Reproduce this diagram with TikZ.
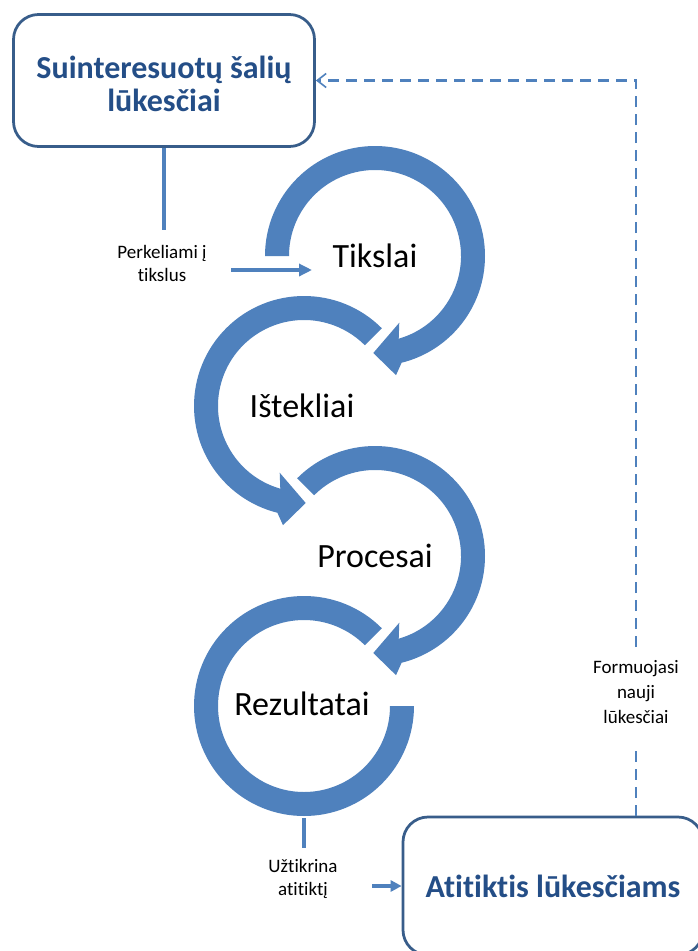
\documentclass[tikz,border=0pt]{standalone}
\usepackage{fontspec}
\setmainfont{Carlito}[Ligatures=NoCommon]
\usetikzlibrary{arrows.meta,calc}
\definecolor{ringc}{RGB}{79,129,189}
\definecolor{boxc}{RGB}{56,93,138}
\definecolor{titlec}{RGB}{36,78,135}
\begin{document}
\begin{tikzpicture}[x=1pt,y=1pt,
  bigbox/.style={draw=boxc,line width=2.75pt,rounded corners=25pt,fill=white,align=center,
    font=\fontsize{32}{33}\selectfont\bfseries,text=titlec},
  ringlabel/.style={font=\fontsize{34}{40}\selectfont,text=black,inner sep=0pt},
  smalllabel/.style={font=\fontsize{19}{23}\selectfont,align=center,text=black,inner sep=2pt},
  conn/.style={draw=ringc,line width=3.5pt},
  dashc/.style={draw=ringc,line width=2.5pt,dash pattern=on 11pt off 7pt}]
\useasboundingbox (0,0) rectangle (698,-951);
\fill[white] (0,0) rectangle (698,-951);

% ring 1 : Tikslai (clockwise)
\begin{scope}[shift={(375,-256)}]
\fill[ringc] (180:110) arc[start angle=180,end angle=-76,radius=110]
  -- (-80:121) -- (-91:97) -- (-70:71) -- (-74:86)
  arc[start angle=-74,end angle=180,radius=86] -- cycle;
\end{scope}
% ring 2 : Ištekliai (counter-clockwise)
\begin{scope}[shift={(304,-406)}]
\fill[ringc] (45:110) arc[start angle=45,end angle=256,radius=110]
  -- (260:121) -- (271:97) -- (250:71) -- (254:86)
  arc[start angle=254,end angle=45,radius=86] -- cycle;
\end{scope}
% ring 3 : Procesai (clockwise)
\begin{scope}[shift={(375,-556)}]
\fill[ringc] (135:110) arc[start angle=135,end angle=-76,radius=110]
  -- (-80:121) -- (-91:97) -- (-70:71) -- (-74:86)
  arc[start angle=-74,end angle=135,radius=86] -- cycle;
\end{scope}
% ring 4 : Rezultatai (counter-clockwise, no head)
\begin{scope}[shift={(304,-706)}]
\fill[ringc] (45:110) arc[start angle=45,end angle=360,radius=110]
  -- (360:86) arc[start angle=360,end angle=45,radius=86] -- cycle;
\end{scope}

\node[ringlabel] (tik) at (375,-256) {Tikslai};
\node[ringlabel] (ist) at (302,-406) {Ištekliai};
\node[ringlabel] (pro) at (375,-556) {Procesai};
\node[ringlabel] (rez) at (302,-704) {Rezultatai};

% boxes
\node[bigbox,minimum width=301pt,minimum height=132pt] (top) at (164,-80.5)
  {\rule{0pt}{30pt}Suinteresuotų šalių\\lūkesčiai};
\begin{scope}
\clip (0,0) rectangle (698,-951);
\node[bigbox,minimum width=300pt,minimum height=138pt] (bot) at (553,-886)
  {Atitiktis lūkesčiams};
\end{scope}

% left connector
\coordinate (c1) at (164,-230);
\draw[conn] (top.south) -- (c1);
\node[smalllabel] (lab1) at (162,-263) {Perkeliami į\\tikslus};
\coordinate (a1s) at (231,-270);
\coordinate (a1e) at (312,-270);
\draw[conn,-{Triangle[length=13pt,width=12pt]}] (a1s) -- (a1e);

% bottom connector
\coordinate (r4b) at (304,-818);
\coordinate (c2) at (304,-848);
\draw[conn] (r4b) -- (c2);
\node[smalllabel] (lab2) at (303,-879) {Užtikrina\\atitiktį};
\coordinate (a2s) at (372,-886);
\draw[conn,-{Triangle[length=11pt,width=11pt]}] (a2s) -- (bot.west);

% dashed feedback
\node[smalllabel,font=\fontsize{19}{25}\selectfont] (lab3) at (636,-692) {Formuojasi\\nauji\\lūkesčiai};
\coordinate (d1) at (636,-647);
\coordinate (d2) at (636,-748);
\draw[dashc] (bot.north -| d2) -- (d2);
\draw[dashc,-{Straight Barb[length=9pt,width=14pt,line width=1.6pt]}] (d1) |- (top.east);
\end{tikzpicture}
\end{document}
